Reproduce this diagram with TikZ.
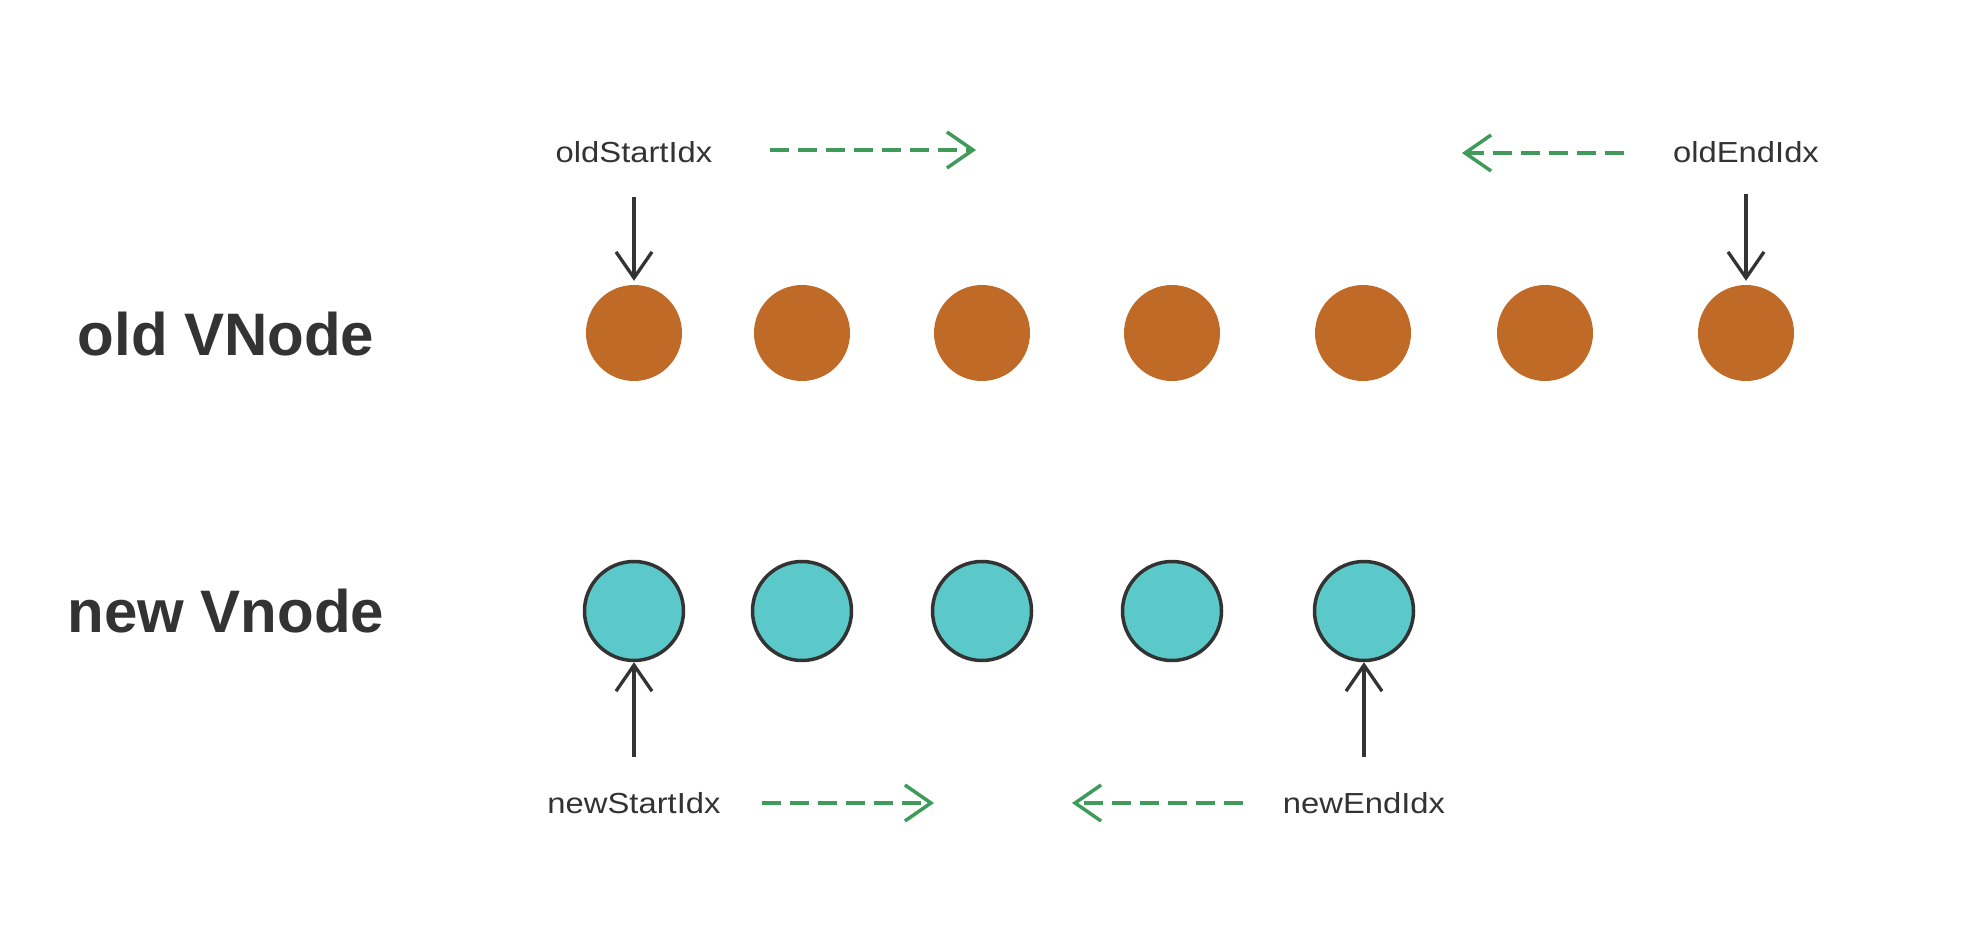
\documentclass[tikz,border=0pt]{standalone}
\usepackage{fontspec}
\setmainfont{Liberation Sans}
\newfontfamily\labfont[FakeStretch=1.13]{Liberation Sans}
\usetikzlibrary{arrows.meta}
\definecolor{txt}{HTML}{333333}
\definecolor{oldc}{HTML}{C06A28}
\definecolor{newc}{HTML}{5BC9C9}
\definecolor{grn}{HTML}{3E9B5A}
\tikzset{
  oldnode/.style={circle,fill=oldc,minimum size=96pt,inner sep=0pt},
  newnode/.style={circle,fill=newc,draw=txt,line width=3.5pt,minimum size=99pt,inner sep=0pt},
  biglab/.style={font=\bfseries\fontsize{60}{60}\selectfont,text=txt,anchor=base,inner sep=0pt},
  idxlab/.style={font=\labfont\fontsize{29}{29}\selectfont,text=txt,anchor=base,inner sep=0pt},
  blkarrow/.style={draw=txt,line width=3.3pt,-{Straight Barb[length=26pt,width=36pt,line width=3.3pt]}},
  grnarrow/.style={draw=grn,line width=3.5pt,dash pattern=on 19pt off 9pt,-{Straight Barb[length=26pt,width=36pt,line width=3.5pt]}}
}
\begin{document}
\begin{tikzpicture}[x=1pt,y=-1pt]
\useasboundingbox[fill=white] (0,0) rectangle (1966,944);
% row labels
\node[biglab] (oldlab) at (226,355) {old VNode};
\node[biglab] (newlab) at (226,632) {new Vnode};
% old nodes
\foreach \i/\x in {1/634,2/802,3/982,4/1172,5/1363,6/1545,7/1746}
  \node[oldnode] (o\i) at (\x,333) {};
% new nodes
\foreach \i/\x in {1/634,2/802,3/982,4/1172,5/1364}
  \node[newnode] (n\i) at (\x,611) {};
% index labels
\node[idxlab] (ols) at (634,163) {oldStartIdx};
\node[idxlab] (ole) at (1746,163) {oldEndIdx};
\node[idxlab] (nls) at (634,813) {newStartIdx};
\node[idxlab] (nle) at (1364,813) {newEndIdx};
% pointer arrows
\draw[blkarrow,shorten <=34pt,shorten >=4pt] (ols.south) -- (o1.north);
\draw[blkarrow,shorten <=31pt,shorten >=4pt] (ole.south) -- (o7.north);
\draw[blkarrow,shorten <=35pt,shorten >=0pt] (nls.north) -- (n1.south);
\draw[blkarrow,shorten <=35pt,shorten >=0pt] (nle.north) -- (n5.south);
% direction arrows
\coordinate (a1s) at (770,150);  \coordinate (a1e) at (976,150);
\coordinate (a2s) at (1624,153); \coordinate (a2e) at (1462,153);
\coordinate (a3s) at (762,803);  \coordinate (a3e) at (934,803);
\coordinate (a4s) at (1243,803); \coordinate (a4e) at (1072,803);
\draw[grnarrow] (a1s) -- (a1e);
\draw[grnarrow] (a2s) -- (a2e);
\draw[grnarrow] (a3s) -- (a3e);
\draw[grnarrow] (a4s) -- (a4e);
\end{tikzpicture}
\end{document}
